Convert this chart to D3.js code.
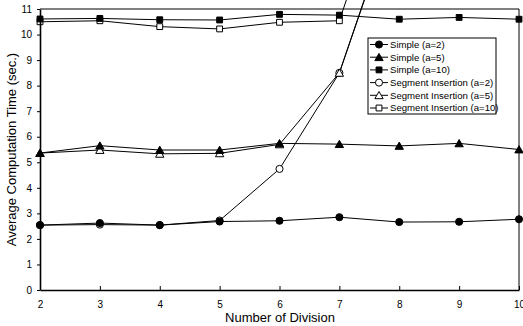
<!DOCTYPE html>
<html>
<head>
<meta charset="utf-8">
<script src="https://cdn.jsdelivr.net/npm/d3@7"></script>
<style>
  body { margin: 0; background: #fff; }
  text { font-family: "Liberation Sans", Arial, sans-serif; fill: #000; }
</style>
</head>
<body>
<svg id="chart" width="523" height="326"></svg>
<script>
const divisions = [2, 3, 4, 5, 6, 7, 8, 9, 10]
const yTicks = [0, 1, 2, 3, 4, 5, 6, 7, 8, 9, 10, 11]

const simpleA2 = [2.54, 2.62, 2.54, 2.68, 2.71, 2.85, 2.66, 2.67, 2.77]
const simpleA5 = [5.36, 5.65, 5.48, 5.48, 5.74, 5.71, 5.64, 5.74, 5.5]
const simpleA10 = [10.61, 10.63, 10.58, 10.57, 10.79, 10.76, 10.6, 10.67, 10.6]
const segA2 = [2.54, 2.56, 2.54, 2.72, 4.74, 8.5, 15.3]
const segA5 = [5.36, 5.48, 5.33, 5.35, 5.7, 8.5, 15.4]
const segA10 = [10.5, 10.54, 10.31, 10.22, 10.48, 10.54, 17.5]

const series = [
  {name: "Simple (a=2)", values: simpleA2, shape: "circle", filled: true},
  {name: "Simple (a=5)", values: simpleA5, shape: "triangle", filled: true},
  {name: "Simple (a=10)", values: simpleA10, shape: "square", filled: true},
  {name: "Segment Insertion (a=2)", values: segA2, shape: "circle", filled: false},
  {name: "Segment Insertion (a=5)", values: segA5, shape: "triangle", filled: false},
  {name: "Segment Insertion (a=10)", values: segA10, shape: "square", filled: false}
]

const margins = {left: 40, top: 9, right: 4, bottom: 36}
const svg = d3.select("#chart")
const width = +svg.attr("width")
const height = +svg.attr("height")
const innerW = width - margins.left - margins.right
const innerH = height - margins.top - margins.bottom

const x = d3.scaleLinear().domain([2, 10]).range([0, innerW])
const y = d3.scaleLinear().domain([0, 11]).range([innerH, 0])

const g = svg.append("g")
  .attr("transform", `translate(${margins.left}, ${margins.top})`)

// top and right frame
g.append("path")
  .attr("d", `M0,0H${innerW}V${innerH}`)
  .attr("fill", "none")
  .attr("stroke", "#000")
  .attr("stroke-width", 1)

const symbolType = {circle: d3.symbolCircle, triangle: d3.symbolTriangle, square: d3.symbolSquare}
const symbolSize = {circle: 40, triangle: 30, square: 34}

function marker(sel, s) {
  sel.append("path")
    .attr("d", d3.symbol().type(symbolType[s.shape]).size(symbolSize[s.shape])())
    .attr("fill", s.filled ? "#000" : "#fff")
    .attr("stroke", "#000")
    .attr("stroke-width", 1)
}

const line = d3.line()
  .x((d, i) => x(divisions[i]))
  .y(d => y(d))

// hollow series first so the filled ones sit on top
const order = [3, 4, 5, 0, 1, 2].map(i => series[i])

order.forEach(s => {
  g.append("path")
    .datum(s.values)
    .attr("fill", "none")
    .attr("stroke", "#000")
    .attr("stroke-width", 1)
    .attr("d", line)
})

order.forEach(s => {
  s.values.forEach((v, i) => {
    if (v > 11) return
    const m = g.append("g")
      .attr("transform", `translate(${x(divisions[i])}, ${y(v) + (s.shape === "triangle" ? 1 : 0)})`)
    marker(m, s)
  })
})

// axes
const xAxis = g.append("g")
  .attr("transform", `translate(0, ${innerH})`)
  .call(d3.axisBottom(x).tickValues(divisions).tickFormat(d3.format("d")).tickSizeInner(-4).tickSizeOuter(0).tickPadding(11))
xAxis.select(".domain").attr("stroke-width", 1.6)
xAxis.selectAll("text").attr("font-size", 10)

const yAxis = g.append("g")
  .call(d3.axisLeft(y).tickValues(yTicks).tickFormat(d3.format("d")).tickSizeInner(3).tickSizeOuter(0).tickPadding(5))
yAxis.select(".domain").attr("stroke-width", 1.6)
yAxis.selectAll("text").attr("font-size", 10)

svg.append("text")
  .attr("x", 280)
  .attr("y", 322)
  .attr("text-anchor", "middle")
  .attr("font-size", 13)
  .text("Number of Division")

svg.append("text")
  .attr("transform", `translate(16, ${margins.top + innerH / 2}) rotate(-90)`)
  .attr("text-anchor", "middle")
  .attr("font-size", 13)
  .text("Average Computation Time (sec.)")

// legend
const legend = svg.append("g").attr("transform", "translate(368, 38)")
legend.append("rect")
  .attr("width", 128)
  .attr("height", 76)
  .attr("fill", "#fff")
  .attr("stroke", "#000")
  .attr("stroke-width", 1)

series.forEach((s, i) => {
  const row = legend.append("g").attr("transform", `translate(0, ${6.5 + i * 12.7})`)
  row.append("line")
    .attr("x1", 2).attr("x2", 20)
    .attr("stroke", "#000")
  const m = row.append("g").attr("transform", `translate(11, ${s.shape === "triangle" ? 1 : 0})`)
  marker(m, s)
  row.append("text")
    .attr("x", 22)
    .attr("dy", "0.35em")
    .attr("font-size", 9.6)
    .text(s.name)
})
</script>
</body>
</html>
